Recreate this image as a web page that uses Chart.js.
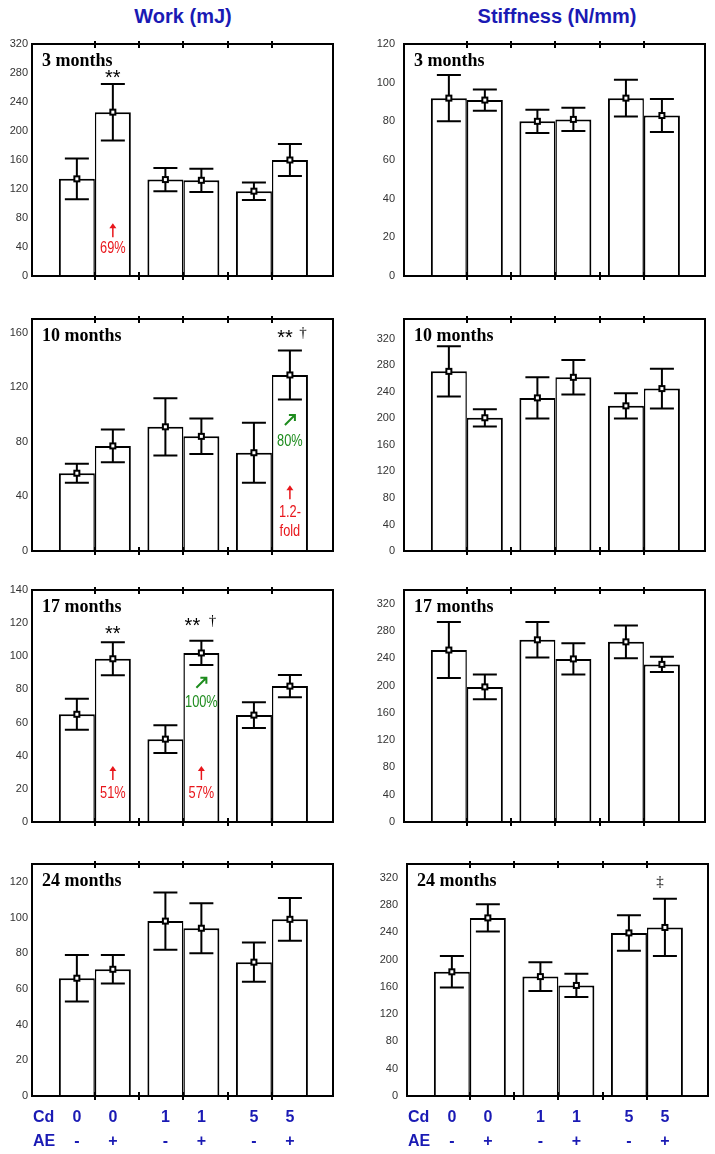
<!DOCTYPE html>
<html>
<head>
<meta charset="utf-8">
<script src="https://cdn.jsdelivr.net/npm/chart.js@4.4.1/dist/chart.umd.min.js"></script>
<style>
  body { margin: 0; background: #fff; width: 715px; height: 1154px; position: relative; overflow: hidden; }
  .head { position: absolute; top: 5px; width: 300px; text-align: center; line-height: 24px;
          font: bold 20px 'Liberation Sans', Arial, sans-serif; color: #1a1ab4; }
  canvas { position: absolute; }
</style>
</head>
<body>
<div class="head" style="left:33px">Work (mJ)</div>
<div class="head" style="left:407px">Stiffness (N/mm)</div>
<script>
// Bar order in every panel: Cd 0 AE-, Cd 0 AE+, Cd 1 AE-, Cd 1 AE+, Cd 5 AE-, Cd 5 AE+
const cdLabels = ['0', '0', '1', '1', '5', '5'];
const aeLabels = ['-', '+', '-', '+', '-', '+'];
const ages = ['3 months', '10 months', '17 months', '24 months'];

// Work (mJ)
const work3 = [134, 226, 133, 132, 117, 160];
const work3Err = [28, 39, 16, 16, 12, 22];
const work10 = [57, 77, 91, 84, 72, 129];
const work10Err = [7, 12, 21, 13, 22, 18];
const work17 = [65, 98.5, 50, 102, 64.5, 82];
const work17Err = [9.3, 10, 8.4, 7.3, 7.8, 6.7];
const work24 = [66, 71, 98, 94, 75, 99];
const work24Err = [13, 8, 16, 14, 11, 12];

// Stiffness (N/mm)
const stiff3 = [92, 91, 80, 81, 92, 83];
const stiff3Err = [12, 5.5, 6, 6, 9.5, 8.5];
const stiff10 = [271, 201, 231, 262, 219, 245];
const stiff10Err = [38, 13, 31, 26, 19, 30];
const stiff17 = [252, 198, 267, 239, 264, 231];
const stiff17Err = [41, 18, 26, 23, 24, 11];
const stiff24 = [182, 261, 175, 162, 239, 247];
const stiff24Err = [23, 20, 21, 17, 26, 42];

// y tick labels
const ticks320 = [0, 40, 80, 120, 160, 200, 240, 280, 320];
const ticks160 = [0, 40, 80, 120, 160];
const ticks140 = [0, 20, 40, 60, 80, 100, 120, 140];
const ticks120 = [0, 20, 40, 60, 80, 100, 120];

// significance marks and % changes (bar index, value on the y axis)
const work3Notes = [
  { bar: 1, v: 280, text: '**', kind: 'star' },
  { bar: 1, v: 63, kind: 'up' },
  { bar: 1, v: 39, text: '69%', kind: 'red' }
];
const work10Notes = [
  { bar: 5, v: 160, text: '**', kind: 'star', dx: -5 },
  { bar: 5, v: 160, text: '†', kind: 'dagger', dx: 13 },
  { bar: 5, v: 96, kind: 'diag' },
  { bar: 5, v: 81, text: '80%', kind: 'green' },
  { bar: 5, v: 43, kind: 'up' },
  { bar: 5, v: 29, text: '1.2-', kind: 'red' },
  { bar: 5, v: 15, text: 'fold', kind: 'red' }
];
const work17Notes = [
  { bar: 1, v: 116.5, text: '**', kind: 'star' },
  { bar: 3, v: 121, text: '**', kind: 'star', dx: -9 },
  { bar: 3, v: 121, text: '†', kind: 'dagger', dx: 11 },
  { bar: 3, v: 84, kind: 'diag' },
  { bar: 3, v: 72.4, text: '100%', kind: 'green' },
  { bar: 1, v: 29.6, kind: 'up' },
  { bar: 1, v: 18, text: '51%', kind: 'red' },
  { bar: 3, v: 29.6, kind: 'up' },
  { bar: 3, v: 18, text: '57%', kind: 'red' }
];
const stiff24Notes = [
  { bar: 5, v: 314, text: '‡', kind: 'dagger', dx: -5 }
];

const RED = '#e8161b';
const GREEN = '#1e8c1e';
const BLUE = '#1a1ab4';
const SANS = "'Liberation Sans', Arial, sans-serif";
const SERIF = "'Liberation Serif', 'Times New Roman', serif";

const panels = [
  { id: 'w3',  vals: work3,   errs: work3Err,   ticks: ticks320, max: 320, left: 0,   top: 44,  age: ages[0], notes: work3Notes },
  { id: 's3',  vals: stiff3,  errs: stiff3Err,  ticks: ticks120, max: 120, left: 372, top: 44,  age: ages[0], notes: [] },
  { id: 'w10', vals: work10,  errs: work10Err,  ticks: ticks160, max: 170, left: 0,   top: 319, age: ages[1], notes: work10Notes },
  { id: 's10', vals: stiff10, errs: stiff10Err, ticks: ticks320, max: 350, left: 372, top: 319, age: ages[1], notes: [] },
  { id: 'w17', vals: work17,  errs: work17Err,  ticks: ticks140, max: 140, left: 0,   top: 590, age: ages[2], notes: work17Notes },
  { id: 's17', vals: stiff17, errs: stiff17Err, ticks: ticks320, max: 340, left: 372, top: 590, age: ages[2], notes: [] },
  { id: 'w24', vals: work24,  errs: work24Err,  ticks: ticks120, max: 130, left: 0,   top: 864, age: ages[3], notes: [], bottom: true },
  { id: 's24', vals: stiff24, errs: stiff24Err, ticks: ticks320, max: 340, left: 375, top: 864, age: ages[3], notes: stiff24Notes, bottom: true }
];

const BOX_H = 232;
const PAD = 18;

function barElement(chart, bar) {
  return chart.getDatasetMeta(bar % 2).data[Math.floor(bar / 2)];
}

// the reference uses a condensed face; squeeze Liberation Sans horizontally
function narrowText(ctx, text, x, y, sx) {
  ctx.save();
  ctx.translate(x, y);
  ctx.scale(sx, 1);
  ctx.fillText(text, 0, 0);
  ctx.restore();
}

function makePanelPlugin(p) {
  return {
    id: 'panel_' + p.id,
    afterDatasetsDraw(chart) {
      const ctx = chart.ctx;
      const area = chart.chartArea;
      const xs = chart.scales.x;
      const ys = chart.scales.y;
      ctx.save();
      ctx.strokeStyle = '#000';
      ctx.lineWidth = 2;

      // error bars and mean markers
      chart.data.datasets.forEach((ds, d) => {
        chart.getDatasetMeta(d).data.forEach((el, i) => {
          const v = ds.data[i].y;
          const e = ds.err[i];
          const yTop = ys.getPixelForValue(v + e);
          const yBot = ys.getPixelForValue(v - e);
          const yMid = ys.getPixelForValue(v);
          ctx.beginPath();
          ctx.moveTo(el.x, yTop); ctx.lineTo(el.x, yBot);
          ctx.moveTo(el.x - 12, yTop); ctx.lineTo(el.x + 12, yTop);
          ctx.moveTo(el.x - 12, yBot); ctx.lineTo(el.x + 12, yBot);
          ctx.stroke();
          ctx.fillStyle = '#fff';
          ctx.fillRect(el.x - 2.5, yMid - 2.5, 5, 5);
          ctx.strokeRect(el.x - 2.5, yMid - 2.5, 5, 5);
        });
      });

      // frame with small ticks crossing top and bottom edges
      ctx.strokeRect(area.left, area.top, area.right - area.left, area.bottom - area.top);
      ctx.beginPath();
      for (let t = 1; t <= 5; t++) {
        const x = Math.round(xs.getPixelForValue(t));
        ctx.moveTo(x, area.top - 3); ctx.lineTo(x, area.top + 4);
        ctx.moveTo(x, area.bottom - 4); ctx.lineTo(x, area.bottom + 4);
      }
      ctx.stroke();

      // age label
      ctx.fillStyle = '#000';
      ctx.font = 'bold 18px ' + SERIF;
      ctx.textAlign = 'left';
      ctx.textBaseline = 'middle';
      ctx.fillText(p.age, area.left + 10, area.top + 17);

      // annotations
      p.notes.forEach(n => {
        const el = barElement(chart, n.bar);
        const x = el.x + (n.dx || 0);
        const y = ys.getPixelForValue(n.v);
        ctx.textAlign = 'center';
        if (n.kind === 'star') {
          ctx.fillStyle = '#000';
          ctx.font = '20px ' + SANS;
          ctx.textBaseline = 'alphabetic';
          ctx.fillText(n.text, x, y + 11);
        } else if (n.kind === 'dagger') {
          ctx.fillStyle = '#000';
          ctx.font = '15px ' + SERIF;
          ctx.textBaseline = 'middle';
          ctx.fillText(n.text, x, y);
        } else if (n.kind === 'red' || n.kind === 'green') {
          ctx.fillStyle = n.kind === 'red' ? RED : GREEN;
          ctx.font = '16px ' + SANS;
          ctx.textBaseline = 'middle';
          narrowText(ctx, n.text, x, y + 1, 0.8);
        } else if (n.kind === 'up') {
          ctx.strokeStyle = RED; ctx.fillStyle = RED; ctx.lineWidth = 1.5;
          ctx.beginPath(); ctx.moveTo(x, y + 7); ctx.lineTo(x, y - 3); ctx.stroke();
          ctx.beginPath(); ctx.moveTo(x, y - 7); ctx.lineTo(x - 3.5, y - 2); ctx.lineTo(x + 3.5, y - 2); ctx.closePath(); ctx.fill();
        } else if (n.kind === 'diag') {
          ctx.strokeStyle = GREEN; ctx.lineWidth = 2;
          ctx.beginPath();
          ctx.moveTo(x - 5, y + 5); ctx.lineTo(x + 5, y - 5);
          ctx.moveTo(x - 1, y - 5); ctx.lineTo(x + 5, y - 5); ctx.lineTo(x + 5, y + 1);
          ctx.stroke();
        }
      });

      // Cd / AE labels under the bottom row
      if (p.bottom) {
        ctx.fillStyle = BLUE;
        ctx.font = 'bold 16px ' + SANS;
        ctx.textBaseline = 'middle';
        ctx.textAlign = 'left';
        ctx.fillText('Cd', area.left + 1, area.bottom + 22);
        ctx.fillText('AE', area.left + 1, area.bottom + 46);
        ctx.textAlign = 'center';
        cdLabels.forEach((c, i) => {
          const el = barElement(chart, i);
          ctx.fillText(c, el.x, area.bottom + 22);
          ctx.fillText(aeLabels[i], el.x, area.bottom + 46);
        });
      }
      ctx.restore();
    }
  };
}

function buildPanel(p) {
  const padBottom = p.bottom ? 1154 - (p.top + BOX_H) : PAD;
  const canvas = document.createElement('canvas');
  canvas.id = p.id;
  canvas.width = 345;
  canvas.height = PAD + BOX_H + padBottom;
  canvas.style.left = p.left + 'px';
  canvas.style.top = (p.top - PAD) + 'px';
  document.body.appendChild(canvas);

  const minus = [], plus = [], minusErr = [], plusErr = [];
  p.vals.forEach((v, i) => {
    const pt = { x: Math.floor(i / 2) * 2 + 1, y: v };
    if (i % 2 === 0) { minus.push(pt); minusErr.push(p.errs[i]); }
    else { plus.push(pt); plusErr.push(p.errs[i]); }
  });

  const barStyle = {
    backgroundColor: '#fff',
    borderColor: '#000',
    borderSkipped: false,
    categoryPercentage: 0.813,
    barPercentage: 1
  };

  new Chart(canvas, {
    type: 'bar',
    data: {
      datasets: [
        Object.assign({ label: 'AE -', data: minus, err: minusErr,
          borderWidth: { left: 2, right: 1.5, top: 2, bottom: 0 } }, barStyle),
        Object.assign({ label: 'AE +', data: plus, err: plusErr,
          borderWidth: { left: 1.5, right: 2, top: 2, bottom: 0 } }, barStyle)
      ]
    },
    options: {
      responsive: false,
      animation: false,
      layout: { padding: { top: PAD, right: 12, bottom: padBottom, left: 0 } },
      plugins: { legend: { display: false }, tooltip: { enabled: false } },
      scales: {
        x: { type: 'linear', min: -0.42, max: 6.38, display: false, offset: false },
        y: {
          min: 0,
          max: p.max,
          grid: { display: false, drawTicks: false },
          border: { display: false },
          afterBuildTicks: s => { s.ticks = p.ticks.map(v => ({ value: v })); },
          afterFit: s => { s.width = 32; },
          ticks: {
            padding: p.left === 0 ? 4 : 9,
            color: '#333',
            font: { family: SANS, size: 11 }
          }
        }
      }
    },
    plugins: [makePanelPlugin(p)]
  });
}

panels.forEach(buildPanel);
</script>
</body>
</html>
